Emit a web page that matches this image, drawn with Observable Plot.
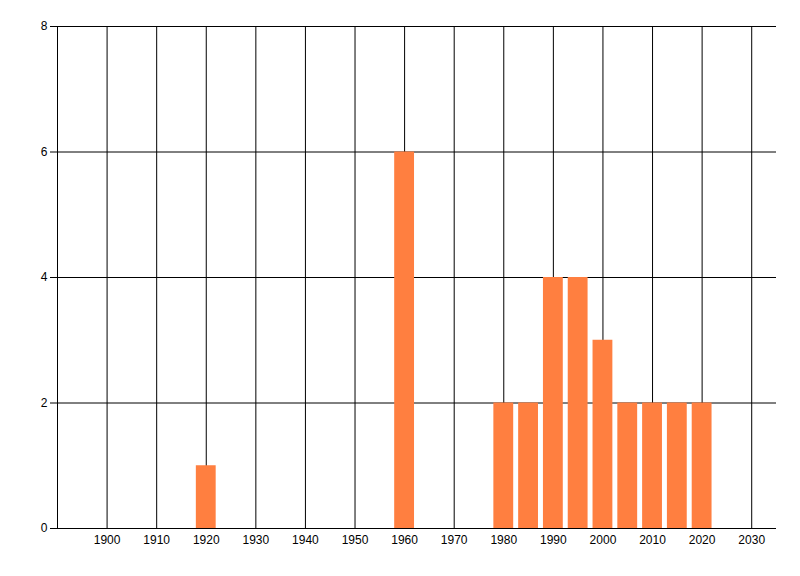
<!DOCTYPE html>
<html>
<head>
<meta charset="utf-8">
<script src="https://cdn.jsdelivr.net/npm/d3@7"></script>
<script src="https://cdn.jsdelivr.net/npm/@observablehq/plot@0.6"></script>
<style>
  body { margin: 0; background: #fff; }
  #chart svg { display: block; }
</style>
</head>
<body>
<div id="chart"></div>
<script>
const years = [1920, 1960, 1980, 1985, 1990, 1995, 2000, 2005, 2010, 2015, 2020];
const counts = [1, 6, 2, 2, 4, 4, 3, 2, 2, 2, 2];
const xTicks = [1900, 1910, 1920, 1930, 1940, 1950, 1960, 1970, 1980, 1990, 2000, 2010, 2020, 2030];
const yTicks = [0, 2, 4, 6, 8];

const data = years.map((y, i) => ({year: y, count: counts[i]}));

const plot = Plot.plot({
  width: 800,
  height: 576,
  marginLeft: 57,
  marginRight: 24,
  marginTop: 26,
  marginBottom: 48,
  style: {fontFamily: "'Liberation Sans', 'DejaVu Sans', sans-serif", fontSize: "12px", color: "#000", background: "#fff"},
  x: {domain: [1890, 2035], ticks: xTicks, tickFormat: d => String(d), label: null},
  y: {domain: [0, 8], ticks: yTicks, label: null},
  marks: [
    Plot.ruleX(xTicks, {stroke: "#000", strokeWidth: 1}),
    Plot.ruleY(yTicks, {stroke: "#000", strokeWidth: 1, x1: 1890, x2: 2035}),
    Plot.ruleX([1890], {stroke: "#000", strokeWidth: 1}),
    Plot.rectY(data, {x1: d => d.year - 2, x2: d => d.year + 2, y: "count", fill: "#ff7f40"}),
    Plot.ruleY([0], {stroke: "#000", strokeWidth: 1, x1: 1890, x2: 2035}),
    Plot.axisY({ticks: yTicks, tickSize: 7, tickPadding: 3, stroke: "#000"}),
    Plot.axisX({ticks: xTicks, tickSize: 0, tickPadding: 7, tickFormat: d => String(d)})
  ]
});

document.getElementById("chart").appendChild(plot);
</script>
</body>
</html>
